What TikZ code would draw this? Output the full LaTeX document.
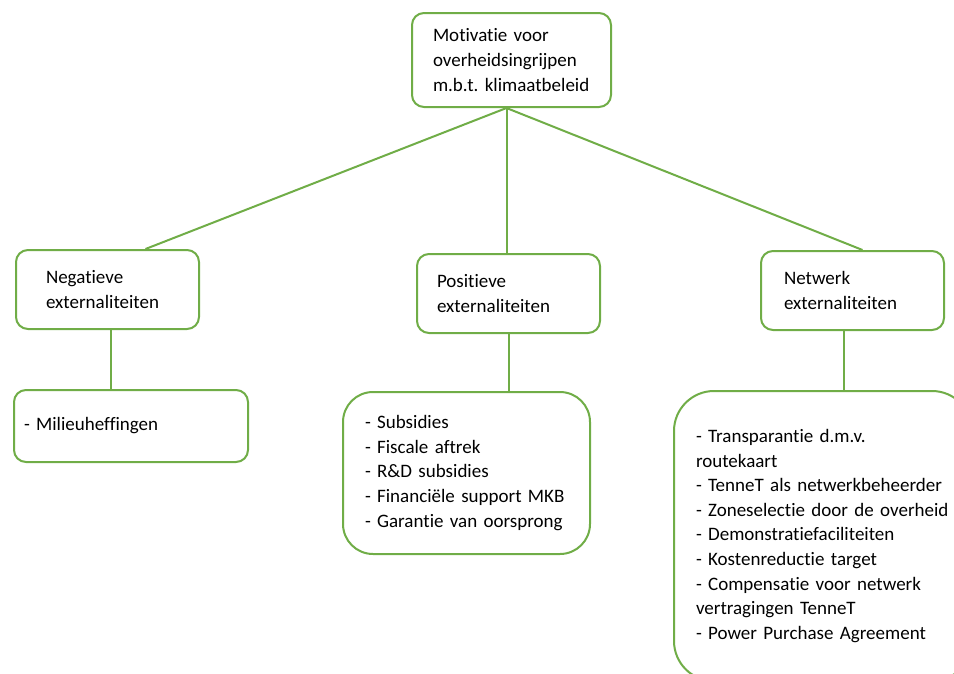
\documentclass[tikz,border=0pt]{standalone}
\usepackage{fontspec}
\setmainfont{Carlito}[Ligatures=NoCommon]
\usepackage{tikz}
\usetikzlibrary{positioning,calc}
\definecolor{boxgreen}{RGB}{112,173,71}
\frenchspacing
\hyphenpenalty=10000

\begin{document}
\begin{tikzpicture}[
  x=1pt,y=-1pt,
  box/.style ={draw=boxgreen,line width=2pt,rounded corners=12pt,fill=white,
               anchor=north west,align=left,inner ysep=0pt,
               font=\fontsize{19}{24.6}\selectfont},
  link/.style={draw=boxgreen,line width=2pt},
]
\useasboundingbox (0,0) rectangle (954,673);
\clip (0,0) rectangle (954,673);

% top
\node[box,minimum width=199,minimum height=94,inner xsep=21,text width=157]
  (top) at (411,12)
  {Motivatie voor\\overheidsingrijpen\\m.b.t. klimaatbeleid};

% externaliteiten
\node[box,minimum width=183,minimum height=79,inner xsep=30,text width=123]
  (neg) at (15,249) {Negatieve\\externaliteiten};
\node[box,minimum width=183,minimum height=79,inner xsep=20,text width=143]
  (pos) at (416,253) {Positieve\\externaliteiten};
\node[box,minimum width=183,minimum height=79,inner xsep=23,text width=137]
  (net) at (760,250) {Netwerk\\externaliteiten};

% maatregelen
\node[box,minimum width=234,minimum height=72,inner xsep=10,text width=214]
  (milieu) at (13,389) {- Milieuheffingen};
\node[box,rounded corners=30pt,minimum width=247,minimum height=162,
      inner xsep=22,text width=203]
  (subs) at (342,391)
  {- Subsidies\\- Fiscale aftrek\\- R\&D subsidies\\
   - Financiële support MKB\\- Garantie van oorsprong};
\node[box,rounded corners=40pt,minimum width=298,minimum height=290,
      inner xsep=22,text width=254]
  (list) at (673,390)
  {- Transparantie d.m.v.\\routekaart\\- TenneT als netwerkbeheerder\\
   - Zoneselectie door de overheid\\- Demonstratiefaciliteiten\\
   - Kostenreductie target\\- Compensatie voor netwerk\\
   vertragingen TenneT\\- Power Purchase Agreement};

% lijnen
\coordinate (hub) at ([xshift=-5]top.south);
\draw[link] (hub) -- ([xshift=38]neg.north);
\draw[link] (hub) -- (hub |- pos.north);
\draw[link] (hub) -- ([xshift=10]net.north);
\draw[link] ([xshift=3]neg.south) -- ([xshift=3]neg.south |- milieu.north);
\draw[link] (pos.south) -- (pos.south |- subs.north);
\draw[link] ([xshift=-9]net.south) -- ([xshift=-9]net.south |- list.north);
\end{tikzpicture}
\end{document}
